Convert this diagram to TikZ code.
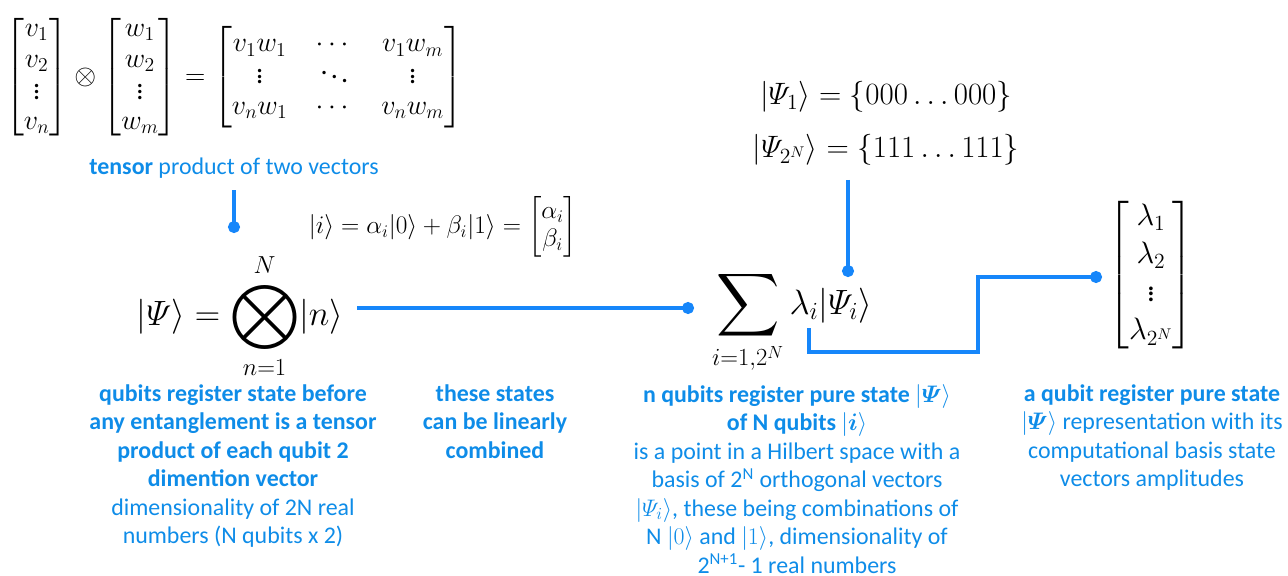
\documentclass[tikz,border=0pt]{standalone}
\usepackage{fix-cm}
\usepackage{amsmath, amssymb}
\usepackage[no-math]{fontspec}
\setmainfont{Carlito}
\usepackage{tikz}
\usetikzlibrary{
  arrows.meta,
  positioning
}
\definecolor{NoteBlue}{RGB}{14, 140, 232}
\definecolor{LineBlue}{RGB}{22, 134, 250}
\newcommand{\bigsumop}{\mathop{\vcenter{\hbox{\scalebox{1.25}{$\displaystyle\sum$}}}}\limits}
\newcommand{\bigotimesop}{\mathop{\vcenter{\hbox{\scalebox{1.3}{$\displaystyle\bigotimes$}}}}\limits}
\tikzset{
    note/.style={text=NoteBlue, font=\fontsize{17}{20.3}\selectfont, align=center,
        anchor=north, inner sep=0pt, execute at begin node=\strut},
    eqn/.style={inner sep=0pt},
    link/.style={draw=LineBlue, line width=2.2pt},
    dotend/.style={-{Circle[length=8.5pt]}}
}

\begin{document}
\begin{tikzpicture}[x=0.025cm, y=-0.025cm]
    \useasboundingbox (0,0) rectangle (1288,575);

    % formulas
    \node[eqn, font=\fontsize{20}{21.6}\selectfont] (tensoreq) at (234,77) {$
        \begin{bmatrix} v_1\\ v_2\\ \vdots\\ v_n \end{bmatrix}
        \otimes
        \begin{bmatrix} w_1\\ w_2\\ \vdots\\ w_m \end{bmatrix}
        =
        {\setlength{\arraycolsep}{10pt}\begin{bmatrix} v_1w_1 & \cdots & v_1w_m\\ \vdots & \ddots & \vdots\\ v_nw_1 & \cdots & v_nw_m \end{bmatrix}}$};
    \node[eqn, font=\fontsize{18}{20}\selectfont] (qubiteq) at (443,227)
        {$\lvert i\rangle = \alpha_i\lvert 0\rangle + \beta_i\lvert 1\rangle = \begin{bmatrix}\alpha_i\\ \beta_i\end{bmatrix}$};
    \node[eqn, font=\fontsize{25}{28}\selectfont] (psiprod) at (240,316)
        {$\displaystyle\lvert\varPsi\rangle = \bigotimesop_{n=1}^{N}\lvert n\rangle$};
    \node[eqn, font=\fontsize{25}{28}\selectfont] (sumstate) at (792,322)
        {$\displaystyle\bigsumop_{i=1,2^N}\lambda_i\lvert\varPsi_i\rangle$};
    \node[eqn, font=\fontsize{22}{26}\selectfont] (basisA) at (886,97)
        {$\lvert\varPsi_1\rangle = \{000\ldots000\}$};
    \node[eqn, font=\fontsize{22}{26}\selectfont] (basisB) at (886,150)
        {$\lvert\varPsi_{2^N}\rangle = \{111\ldots111\}$};
    \node[eqn, font=\fontsize{22}{27}\selectfont] (lambdavec) at (1151,275)
        {$\begin{bmatrix}\lambda_1\\ \lambda_2\\ \vdots\\ \lambda_{2^N}\end{bmatrix}$};

    % captions
    \node[note] (tensorlbl) at (234,154) {\textbf{tensor} product of two vectors};
    \node[note] (productnote) at (233,384) {\textbf{qubits register state before}\\
        \textbf{any entanglement is a tensor}\\ \textbf{product of each qubit 2}\\
        \textbf{dimention vector}\\ dimensionality of 2N real\\ numbers (N qubits x 2)};
    \node[note] (combinenote) at (495,384) {\textbf{these states}\\ \textbf{can be linearly}\\ \textbf{combined}};
    \node[note] (purenote) at (797,384) {\textbf{n qubits register pure state $\lvert\boldsymbol{\varPsi}\rangle$}\\
        \textbf{of N qubits $\lvert\boldsymbol{i}\rangle$}\\ is a point in a Hilbert space with a\\
        basis of 2\textsuperscript{N} orthogonal vectors\\ $\lvert\varPsi_i\rangle$, these being combinations of\\
        N $\lvert 0\rangle$ and $\lvert 1\rangle$, dimensionality of\\ 2\textsuperscript{N+1}- 1 real numbers};
    \node[note] (ampnote) at (1152,384) {\textbf{a qubit register pure state}\\
        $\lvert\boldsymbol{\varPsi}\rangle$ representation with its\\ computational basis state\\ vectors amplitudes};

    % connectors
    \coordinate (tensordot) at (234,233);
    \coordinate (sumdot) at (694,308);
    \coordinate (basisdot) at (848,277);
    \coordinate (sumtail) at (809,328);
    \coordinate (bend) at (978,352);
    \coordinate (lambdot) at (1102,277);
    \draw[link, dotend, shorten <=5pt] (tensorlbl.south) -- (tensordot);
    \draw[link, dotend, shorten <=10pt] (psiprod.east |- sumdot) -- (sumdot);
    \draw[link, dotend, shorten <=10pt] (basisB.south -| basisdot) -- (basisdot);
    \draw[link, dotend] (sumtail) |- (bend) |- (lambdot);
\end{tikzpicture}
\end{document}
